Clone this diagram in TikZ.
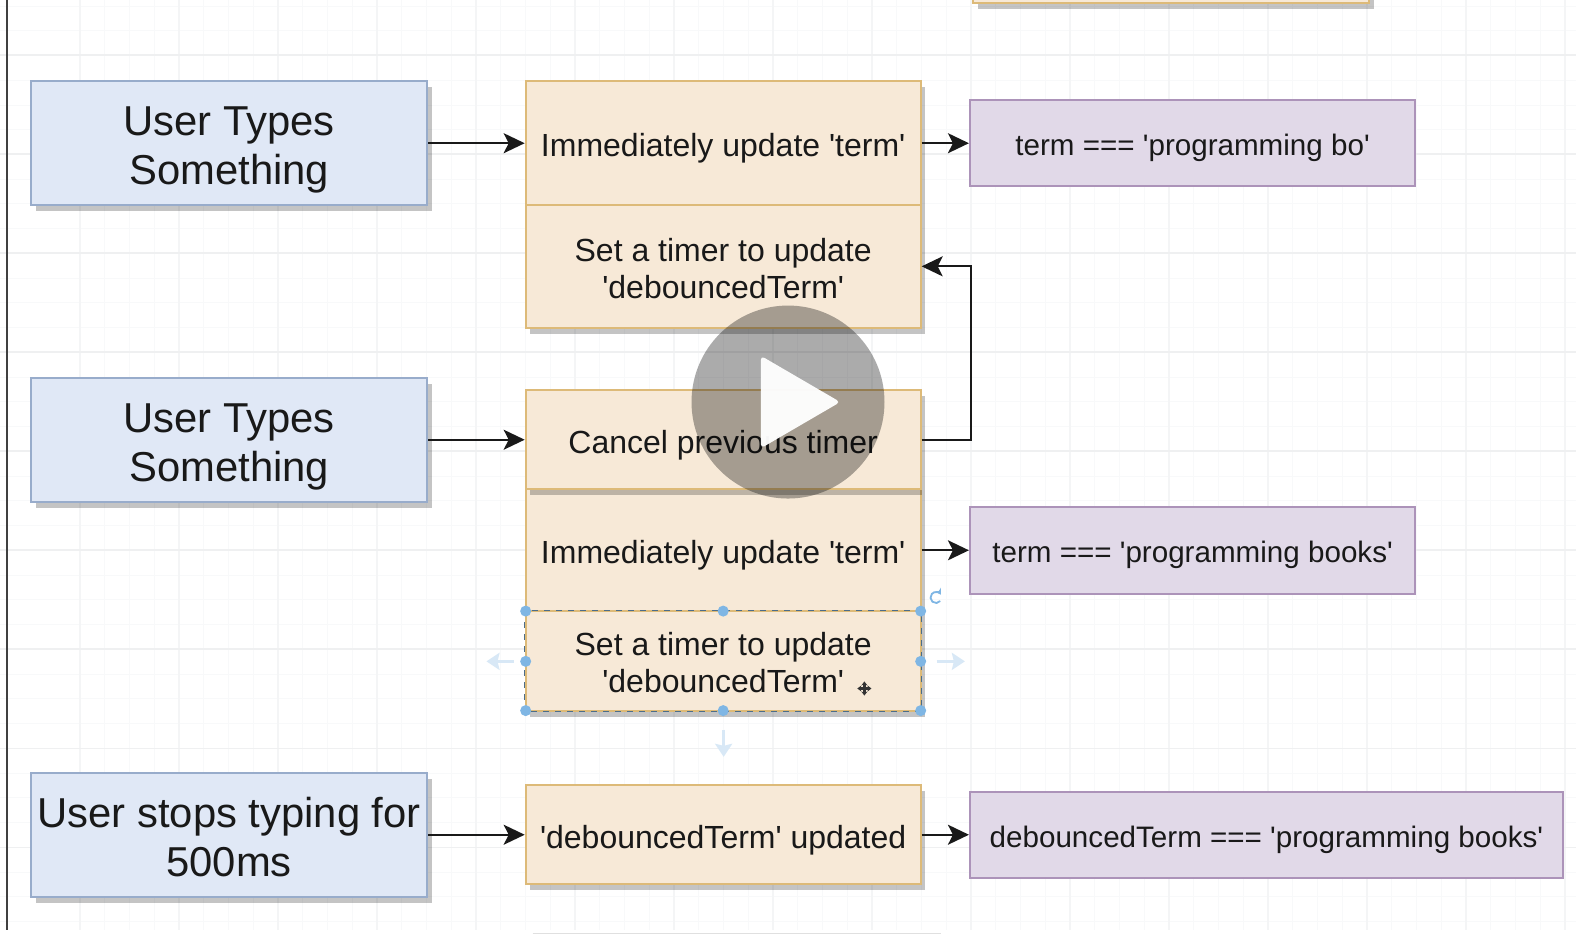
\documentclass[tikz,border=0pt]{standalone}
\usepackage{fontspec}
\setmainfont{Liberation Sans}[Ligatures=TeXOff]
\usetikzlibrary{arrows.meta,shadows}
\definecolor{gridminor}{HTML}{F8F9FA}
\definecolor{gridmajorh}{HTML}{EFF0F1}
\definecolor{gridmajorv}{HTML}{F4F5F6}
\definecolor{bluefill}{HTML}{E0E8F6}
\definecolor{bluedraw}{HTML}{98ACCB}
\definecolor{orangefill}{HTML}{F7E9D7}
\definecolor{orangedraw}{HTML}{DDBA78}
\definecolor{purplefill}{HTML}{E1D9E8}
\definecolor{purpledraw}{HTML}{AC93B9}
\definecolor{handle}{HTML}{7FB6E4}
\definecolor{handlefaint}{HTML}{D8E8F6}
\def\pxu{0.50255pt}
\newcommand\btop{\rule{0pt}{23pt}}
\newcommand\bbot{\rule[-6pt]{0pt}{6pt}}
\newcommand\otop{\rule{0pt}{19pt}}
\newcommand\obot{\rule[-5.6pt]{0pt}{5.6pt}}
\newcommand\ptop{\rule{0pt}{18pt}}
\newcommand\pbot{\rule[-5.4pt]{0pt}{5.4pt}}
\tikzset{
  x=0.50255pt,y=-0.50255pt,
  basebox/.style={draw,line width=1pt,align=center,inner sep=0pt,text=black!90,
    drop shadow={shadow xshift=2.4pt,shadow yshift=-3pt,fill=black,opacity=.23}},
  bluebox/.style={basebox,fill=bluefill,draw=bluedraw,minimum width=394*\pxu,minimum height=123*\pxu,
    font=\fontsize{20.9}{24.6}\selectfont},
  orangebox/.style={basebox,fill=orangefill,draw=orangedraw,minimum width=393*\pxu,
    font=\fontsize{16}{18.6}\selectfont},
  purplebox/.style={draw,line width=1pt,align=center,inner sep=0pt,text=black!90,fill=purplefill,draw=purpledraw,
    minimum height=86*\pxu,font=\fontsize{14.8}{17.4}\selectfont},
  link/.style={draw=black!90,line width=1pt,-{Stealth[length=10.5pt,width=10pt,inset=2.5pt]}},
  handledot/.style={circle,fill=handle,inner sep=0pt,minimum size=11*\pxu},
  faintarrow/.style={draw=handlefaint,line width=1.8pt,-{Stealth[length=6.5pt,width=8.5pt,inset=1pt]}},
}
\begin{document}
\begin{tikzpicture}
\useasboundingbox (0,0) rectangle (1568,929.4);
\fill[white] (0,0) rectangle (1568,929.4);
% grid
\foreach \i in {0,...,64}{
  \pgfmathsetmacro{\gx}{1064.6-24.62*(\i-25)}
  \draw[gridminor,line width=.5pt] (\gx,0) -- (\gx,925);
}
\foreach \i in {0,...,37}{
  \pgfmathsetmacro{\gy}{6+24.62*\i}
  \draw[gridminor,line width=.5pt] (0,\gy) -- (1568,\gy);
}
\foreach \i in {0,...,15}{
  \pgfmathsetmacro{\gx}{79.6+98.5*\i}
  \draw[gridmajorv,line width=.6pt] (\gx,0) -- (\gx,925);
}
\foreach \gy in {55,153.5,252,350.5,449,547.5,646,744.5,843}{
  \draw[gridmajorh,line width=.8pt] (0,\gy) -- (1568,\gy);
}
\fill[white] (0,925) rectangle (1568,929.4);
\draw[black!12,line width=.5pt] (530,929) -- (936,929);
% left rule
\draw[black!75,line width=1.1pt] (7,0) -- (7,925);
% top fragment
\node[orangebox,minimum width=394*\pxu,minimum height=40*\pxu] (topbox) at (1165,-17) {};
% blue boxes
\node[bluebox] (ua) at (228,142.5) {\btop User Types\\Something\bbot};
\node[bluebox] (ub) at (228,437.5) {\btop User Types\\Something\bbot};
\node[bluebox] (uc) at (228,830.5) {\btop User stops typing for\\500ms\bbot};
% orange boxes
\node[orangebox,minimum height=123*\pxu] (ia) at (719.5,142.5) {\otop Immediately update 'term'\obot};
\node[orangebox,minimum height=122*\pxu] (ta) at (719.5,265) {\otop Set a timer to update\\'debouncedTerm'\obot};
\node[orangebox,minimum height=121*\pxu] (ib) at (719.5,547.5) {\otop Immediately update 'term'\obot};
\node[orangebox,minimum height=99*\pxu] (tb) at (719.5,657.5) {\otop Set a timer to update\\'debouncedTerm'\obot};
\node[orangebox,minimum height=99*\pxu] (cb) at (719.5,437.5) {\otop Cancel previous timer\obot};
\node[orangebox,minimum height=99*\pxu] (dt) at (719.5,830.5) {\otop 'debouncedTerm' updated\obot};
% purple boxes
\node[purplebox,minimum width=443*\pxu] (pa) at (1186.5,142.5) {\ptop term === 'programming bo'\pbot};
\node[purplebox,minimum width=443*\pxu] (pb) at (1186.5,547.5) {\ptop term === 'programming books'\pbot};
\node[purplebox,minimum width=590*\pxu] (pc) at (1260,830.5) {\ptop debouncedTerm === 'programming books'\pbot};
% connectors
\coordinate (bend) at (966,350);
\draw[link] (ua.east) -- (ia.west);
\draw[link] (ub.east) -- (cb.west);
\draw[link] (uc.east) -- (dt.west);
\draw[link] (ia.east) -- (pa.west);
\draw[link] (ib.east) -- (pb.west);
\draw[link] (dt.east) -- (pc.west);
\draw[link] (cb.east) -- (cb.east -| bend) -- (bend |- ta.east) -- (ta.east);
% selection
\draw[handle!60!black,line width=.4pt,dashed] (tb.north west) rectangle (tb.south east);
\foreach \hn/\hx/\hy in {ha/523/608,hb/719.5/608,hc/916/608,hd/523/658,he/916/658,hf/523/707,hg/719.5/707,hh/916/707}{
  \node[handledot] (\hn) at (\hx,\hy) {};
}
\coordinate (lefta) at (511,658);\coordinate (leftb) at (484,658);
\coordinate (righta) at (932,658);\coordinate (rightb) at (960,658);
\coordinate (downa) at (720,726);\coordinate (downb) at (720,753);
\draw[faintarrow] (lefta) -- (leftb);
\draw[faintarrow] (righta) -- (rightb);
\draw[faintarrow] (downa) -- (downb);
% rotate icon
\draw[handle,line width=.9pt,-{Stealth[length=3pt,width=3.5pt]}] (935.5,598) arc (40:330:5.5);
% cursor
\draw[black!80,line width=1.1pt,{Stealth[length=2pt,width=3pt]}-{Stealth[length=2pt,width=3pt]}] (853,685) -- (867,685);
\draw[black!80,line width=1.1pt,{Stealth[length=2pt,width=3pt]}-{Stealth[length=2pt,width=3pt]}] (860,678) -- (860,692);
% play button
\fill[black,opacity=.33] (784,400) circle (96);
\fill[white,opacity=.96,rounded corners=2pt] (757,354) -- (836,400) -- (757,446) -- cycle;
\end{tikzpicture}
\end{document}
